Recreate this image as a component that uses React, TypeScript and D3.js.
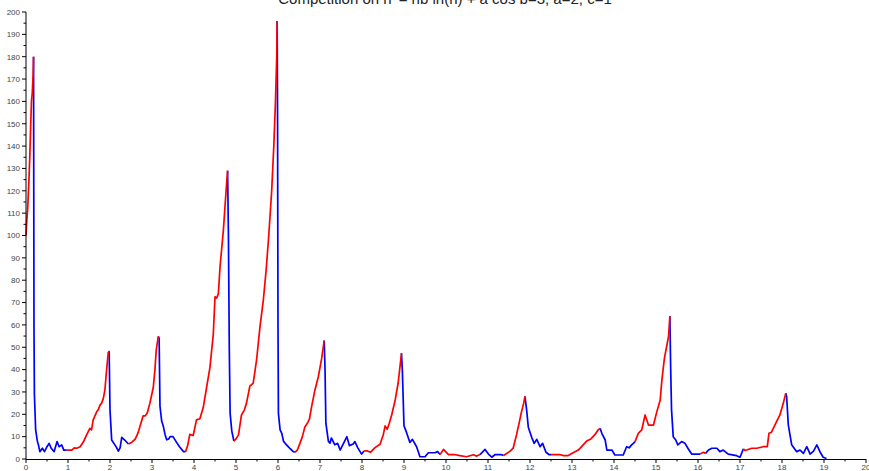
import React from "react";
import * as d3 from "d3";

const titleText = "Competition on n' = nb ln(n) + a cos b=3, a=2, c=1";
const xTicks = d3.range(0, 21, 1);
const yTicks = d3.range(0, 201, 10);

// growth phases (red)
const redRuns: [number, number][][] = [
  [[0,100],[0.02,107],[0.04,112],[0.07,125],[0.09,135],[0.11,148],[0.13,160],[0.15,164],[0.17,172],[0.18,180]],
  [[0.97,4],[1.09,4],[1.15,5],[1.21,4.8],[1.29,5.5],[1.37,7.8],[1.44,10.7],[1.52,13.7],[1.56,13],[1.6,17.5],[1.68,21],[1.72,22],[1.76,24],[1.8,25],[1.84,27],[1.88,31],[1.905,36.8],[1.93,42],[1.96,48]],
  [[2.44,6.7],[2.52,7.5],[2.6,8.9],[2.67,11.8],[2.72,15],[2.79,19.3],[2.84,19.3],[2.89,20.8],[2.95,25],[3.03,32],[3.07,40],[3.1,48.6],[3.15,54.9]],
  [[3.8,3.3],[3.85,6],[3.9,11],[3.98,10.5],[4.06,17.5],[4.14,18],[4.22,23],[4.3,32],[4.38,41],[4.46,56],[4.5,72.6],[4.54,72],[4.58,74],[4.62,86],[4.7,102.5],[4.76,119],[4.8,129]],
  [[4.95,8],[5.0,9],[5.06,10.8],[5.13,19.7],[5.2,22],[5.25,25],[5.33,32.6],[5.41,34],[5.49,44.3],[5.57,59],[5.65,71],[5.72,85],[5.78,100],[5.85,120],[5.9,140],[5.94,160],[5.97,180],[5.98,196]],
  [[6.4,3],[6.46,4],[6.52,6.9],[6.58,10],[6.64,14.3],[6.7,16],[6.75,18],[6.8,23.4],[6.88,30.9],[6.96,36.8],[7.04,45],[7.1,53]],
  [[8.05,3.6],[8.13,3.6],[8.2,3],[8.31,5.1],[8.43,6.6],[8.51,11.1],[8.55,14.8],[8.6,13.3],[8.65,16],[8.71,19.9],[8.79,26.4],[8.86,33.9],[8.94,47.3]],
  [[9.86,2],[9.94,4.3],[10.06,2],[10.2,2],[10.33,1.5],[10.49,1],[10.65,1.9],[10.73,1.3],[10.81,2]],
  [[11.37,1.6],[11.52,3.4],[11.6,4.9],[11.68,10.9],[11.74,16],[11.8,21.3],[11.85,25],[11.88,28]],
  [[12.5,2],[12.7,2],[12.8,1.5],[12.9,1.5],[13.05,3],[13.15,4],[13.25,6],[13.35,8],[13.45,9],[13.55,11],[13.62,13],[13.67,13.7]],
  [[14.5,7.8],[14.58,11.5],[14.66,13],[14.74,19.7],[14.82,15.2],[14.94,15.2],[15.02,21.2],[15.1,26.4],[15.14,35.3],[15.2,45],[15.27,52],[15.3,55],[15.33,64]],
  [[16.05,2.2],[16.13,3],[16.18,2.5]],
  [[17.08,4.5],[17.12,3.8],[17.28,4.8],[17.4,4.8],[17.55,5.5],[17.65,5.5],[17.69,11.5],[17.75,12],[17.83,15.2],[17.95,19.7],[18.03,24.9],[18.09,29.4]],
];

// decline phases (blue)
const blueRuns: [number, number][][] = [
  [[0.18,180],[0.185,120],[0.19,60],[0.2,29],[0.23,13],[0.27,8],[0.3,6],[0.33,3.3],[0.39,4.8],[0.44,3.3],[0.5,5.5],[0.55,7],[0.6,4.8],[0.67,3.3],[0.74,7.8],[0.79,5.5],[0.85,6.3],[0.9,4],[0.97,4]],
  [[1.96,48],[1.98,48],[2.0,22],[2.04,8.5],[2.12,6.2],[2.16,5],[2.2,3.5],[2.24,5],[2.28,9.7],[2.35,8.5],[2.4,7.5],[2.44,6.7]],
  [[3.15,54.9],[3.17,54],[3.19,23.6],[3.23,17],[3.27,14.6],[3.31,11],[3.35,8.6],[3.4,9],[3.43,10],[3.5,10],[3.57,7.9],[3.65,5.6],[3.75,3.3],[3.8,3.3]],
  [[4.8,129],[4.82,100],[4.84,50],[4.86,20.5],[4.9,12.5],[4.95,8]],
  [[5.98,196],[5.99,150],[6.0,60],[6.01,20.4],[6.05,13],[6.09,11.5],[6.13,8],[6.17,7],[6.22,6],[6.29,4.6],[6.35,3.5],[6.4,3]],
  [[7.1,53],[7.12,40],[7.14,16],[7.2,7.9],[7.24,7.1],[7.27,9.4],[7.35,6.4],[7.42,7],[7.48,4],[7.56,7],[7.64,10],[7.7,6],[7.79,6.7],[7.83,7.8],[7.9,5],[7.99,2.2],[8.05,3.6]],
  [[8.94,47.3],[8.96,40],[9.0,14.8],[9.06,11.9],[9.14,7.4],[9.2,8.8],[9.3,5.5],[9.38,1],[9.5,1],[9.58,2.8],[9.74,2.8],[9.8,3.3],[9.86,2]],
  [[10.81,2],[10.93,4.3],[11.01,2.2],[11.09,0.8],[11.17,2],[11.3,2],[11.37,1.6]],
  [[11.88,28],[11.92,22],[11.96,14.2],[12.04,9.7],[12.1,7],[12.16,8.8],[12.24,5.5],[12.3,7],[12.38,3],[12.45,2],[12.5,2]],
  [[13.67,13.7],[13.71,11.5],[13.79,8.5],[13.83,4],[13.95,4],[14.02,1.8],[14.22,1.8],[14.3,5.5],[14.36,5],[14.42,6.3],[14.46,7],[14.5,7.8]],
  [[15.33,64],[15.35,40],[15.37,22],[15.41,10],[15.47,8.5],[15.52,6.3],[15.61,7.8],[15.69,7],[15.77,4.5],[15.85,2.2],[16.05,2.2]],
  [[16.18,2.5],[16.25,4],[16.33,4.8],[16.45,4.8],[16.52,3.3],[16.6,4],[16.72,2.2],[16.92,1.5],[17.0,0.8],[17.08,4.5]],
  [[18.09,29.4],[18.11,28],[18.15,15.3],[18.23,6.4],[18.35,3.3],[18.43,4],[18.51,2.5],[18.59,5.5],[18.67,2.2],[18.75,3.5],[18.83,6.3],[18.91,3],[18.98,0.8],[19.06,0.2]],
];

const W = 869;
const H = 471;
const x0 = 26, x1 = 866, yTop = 12, yBot = 459;

export default function App() {
  const x = d3.scaleLinear().domain([0, 20]).range([x0, x1]);
  const y = d3.scaleLinear().domain([0, 200]).range([yBot, yTop]);
  const line = d3.line<[number, number]>().x(d => x(d[0])).y(d => y(d[1]));
  const font = "Arial, 'Liberation Sans', sans-serif";
  const xMinor = d3.range(0.5, 20, 1);
  const yMinor = d3.range(5, 200, 10);
  return (
    <svg width={W} height={H} style={{ position: "absolute", left: 0, top: 0, background: "#fff" }}>
      <rect x={0} y={0} width={W} height={H} fill="#fff" />
      <text x={445} y={4} textAnchor="middle" fontFamily={font} fontSize={15} fill="#222">{titleText}</text>
      {blueRuns.map((r, i) => (
        <path key={"b" + i} d={line(r) || ""} fill="none" stroke="#0000ff" strokeWidth={1.7} strokeLinejoin="round" />
      ))}
      {redRuns.map((r, i) => (
        <path key={"r" + i} d={line(r) || ""} fill="none" stroke="#ff0000" strokeWidth={1.7} strokeLinejoin="round" />
      ))}
      <line x1={x0} x2={x0} y1={y(200)} y2={yBot} stroke="#000" strokeWidth={1} />
      <line x1={x0} x2={x1} y1={yBot + 0.5} y2={yBot + 0.5} stroke="#000" strokeWidth={1} />
      {yTicks.map(t => (
        <g key={"yt" + t}>
          <line x1={x0 - 4} x2={x0} y1={y(t)} y2={y(t)} stroke="#000" />
          <text x={x0 - 6} y={y(t)} dy="0.35em" textAnchor="end" fontFamily={font} fontSize={8} fill="#444">{t}</text>
        </g>
      ))}
      {yMinor.map(t => (
        <line key={"ym" + t} x1={x0 - 2.5} x2={x0} y1={y(t)} y2={y(t)} stroke="#000" />
      ))}
      {xTicks.map(t => (
        <g key={"xt" + t}>
          <line x1={x(t)} x2={x(t)} y1={yBot} y2={yBot + 4} stroke="#000" />
          <text x={x(t)} y={yBot + 11} textAnchor="middle" fontFamily={font} fontSize={8} fill="#444">{t}</text>
        </g>
      ))}
      {xMinor.map(t => (
        <line key={"xm" + t} x1={x(t)} x2={x(t)} y1={yBot} y2={yBot + 2.5} stroke="#000" />
      ))}
    </svg>
  );
}
